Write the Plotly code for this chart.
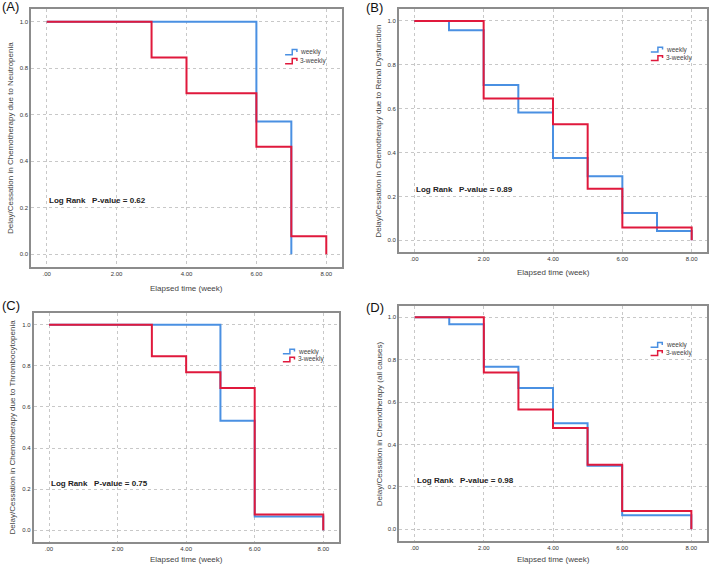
import plotly.graph_objects as go

# Kaplan-Meier style curves: proportion without delay/cessation of chemotherapy,
# weekly vs 3-weekly schedule, four causes.
panels = ["(A)", "(B)", "(C)", "(D)"]
y_titles = [
    "Delay/Cessation in Chemotherapy due to Neutropenia",
    "Delay/Cessation in Chemotherapy due to Renal Dysfunction",
    "Delay/Cessation in Chemotherapy due to Thrombocytopenia",
    "Delay/Cessation in Chemotherapy (all causes)",
]
p_values = ["0.62", "0.89", "0.75", "0.98"]

weekly_t = [
    [0, 6, 7, 7],
    [0, 1, 2, 3, 4, 5, 6, 7, 8],
    [0, 5, 6, 8],
    [0, 1, 2, 3, 4, 5, 6, 8],
]
weekly_s = [
    [1.0, 0.571, 0.0, 0.0],
    [1.0, 0.958, 0.708, 0.583, 0.375, 0.292, 0.125, 0.042, 0.0],
    [1.0, 0.533, 0.067, 0.0],
    [1.0, 0.967, 0.767, 0.667, 0.5, 0.3, 0.067, 0.0],
]
threew_t = [
    [0, 3, 4, 6, 7, 8],
    [0, 2, 4, 5, 6, 8],
    [0, 3, 4, 5, 6, 8],
    [0, 2, 3, 4, 5, 6, 8],
]
threew_s = [
    [1.0, 0.846, 0.692, 0.462, 0.077, 0.0],
    [1.0, 0.647, 0.529, 0.235, 0.059, 0.0],
    [1.0, 0.846, 0.769, 0.692, 0.077, 0.0],
    [1.0, 0.739, 0.565, 0.478, 0.304, 0.087, 0.0],
]

x_ticks = [0, 2, 4, 6, 8]
x_ticktext = [".00", "2.00", "4.00", "6.00", "8.00"]
y_ticks = [0, 0.2, 0.4, 0.6, 0.8, 1.0]
y_ticktext = ["0.0", "0.2", "0.4", "0.6", "0.8", "1.0"]

BLUE = "#4a90e2"
RED = "#e0193c"
FONT = "Liberation Sans, Arial, sans-serif"
W, H = 709, 566

# frame of each panel in pixels: left, right, top, bottom
frames = [
    (31, 342, 9, 267),
    (398.7, 707.3, 8.9, 252.4),
    (33.6, 338.7, 313.4, 541.6),
    (399.1, 706.9, 305.6, 541.0),
]
# pixel positions of titles and panel letters
ytitle_x = [11, 379, 12, 379]
xtitle_y = [288, 272, 559, 559]
letter_pos = [(0, 7), (364, 8), (0, 305), (364, 307)]

fig = go.Figure()
layout = {}
shapes = []
annotations = []

for i in range(4):
    n = "" if i == 0 else str(i + 1)
    xa, ya = "x" + n, "y" + n
    l, r, t, b = frames[i]
    xd = [l / W, r / W]
    yd = [1 - b / H, 1 - t / H]

    fig.add_trace(go.Scatter(x=weekly_t[i], y=weekly_s[i], mode="lines",
                             line=dict(color=BLUE, width=2, shape="hv"),
                             xaxis=xa, yaxis=ya, showlegend=False, name="weekly"))
    fig.add_trace(go.Scatter(x=threew_t[i], y=threew_s[i], mode="lines",
                             line=dict(color=RED, width=2, shape="hv"),
                             xaxis=xa, yaxis=ya, showlegend=False, name="3-weekly"))

    common = dict(
        tickfont=dict(size=6, color="#333333"),
        showgrid=True, gridcolor="#c8c8c8", griddash="dot", gridwidth=1,
        zeroline=False, showline=True, mirror=True,
        linecolor="#8c8c8c", linewidth=1.5, ticks="", automargin=False,
    )
    layout["xaxis" + n] = dict(domain=xd, anchor=ya, range=[-0.45, 8.45],
                               tickvals=x_ticks, ticktext=x_ticktext, **common)
    layout["yaxis" + n] = dict(domain=yd, anchor=xa, range=[-0.055, 1.055],
                               tickvals=y_ticks, ticktext=y_ticktext, **common)

    # axis titles
    annotations.append(dict(
        x=ytitle_x[i] / W, y=(yd[0] + yd[1]) / 2, xref="paper", yref="paper",
        xanchor="center", yanchor="middle", textangle=-90, text=y_titles[i],
        showarrow=False, font=dict(size=8, color="#444444"),
    ))
    annotations.append(dict(
        x=4, y=1 - xtitle_y[i] / H, xref=xa, yref="paper",
        xanchor="center", yanchor="middle", text="Elapsed time (week)",
        showarrow=False, font=dict(size=8, color="#444444"),
    ))

    annotations.append(dict(
        x=0, y=0.23, xref=xa, yref=ya, xanchor="left", yanchor="middle",
        text="<b>Log Rank\u00a0\u00a0 P-value = " + p_values[i] + "</b>",
        showarrow=False, font=dict(size=8, color="#222222"),
    ))
    annotations.append(dict(
        x=letter_pos[i][0] / W, y=1 - letter_pos[i][1] / H,
        xref="paper", yref="paper", xanchor="left", yanchor="middle",
        text=panels[i], showarrow=False, font=dict(size=13, color="#111111"),
    ))

    # legend: step-shaped icons and labels
    def px(fx):
        return (l + fx * (r - l)) / W

    def py(fy):
        return 1 - (b - fy * (b - t)) / H

    for k, (col, lab) in enumerate([(BLUE, "weekly"), (RED, "3-weekly")]):
        fy = 0.833 - k * 0.035
        x0, xm, x1 = px(0.817), px(0.840), px(0.855)
        yb, yt, ymid = py(fy - 0.010), py(fy + 0.010), py(fy)
        shapes.append(dict(
            type="path", xref="paper", yref="paper",
            path=f"M {x0} {yb} L {xm} {yb} L {xm} {yt} L {x1} {yt} L {x1} {ymid}",
            line=dict(color=col, width=1.5),
        ))
        annotations.append(dict(
            x=px(0.86), y=py(fy), xref="paper", yref="paper",
            xanchor="left", yanchor="middle", text=lab, showarrow=False,
            font=dict(size=6.5, color="#444444"),
        ))

fig.update_layout(
    width=W, height=H,
    margin=dict(l=0, r=0, t=0, b=0),
    paper_bgcolor="white", plot_bgcolor="white",
    font=dict(family=FONT),
    shapes=shapes, annotations=annotations,
    showlegend=False,
    **layout,
)

# drop the page's default body margin so the figure sits at the window origin
fig.write_html(
    "out.html",
    config={"displayModeBar": False},
    post_script="document.body.style.margin='0';document.body.style.overflow='hidden';",
)
